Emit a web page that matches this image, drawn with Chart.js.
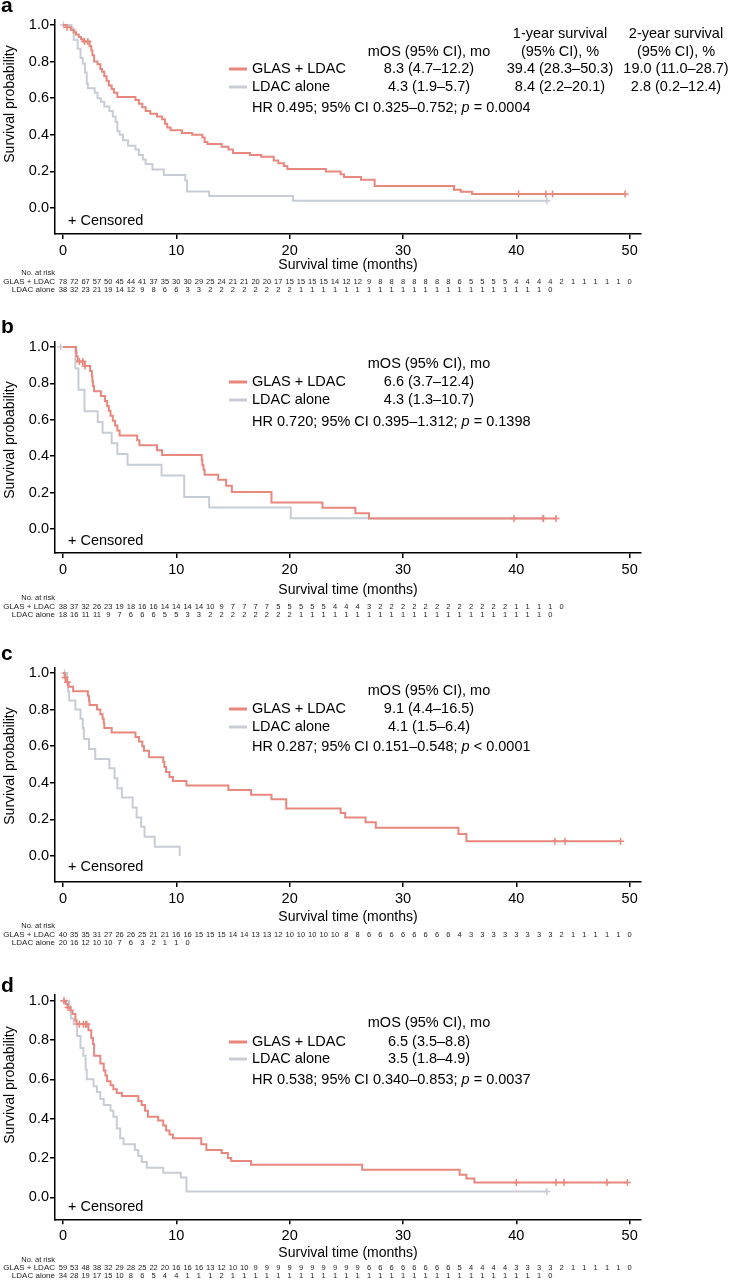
<!DOCTYPE html>
<html lang="en">
<head>
<meta charset="UTF-8">
<title>Overall survival</title>
<script src="https://cdn.jsdelivr.net/npm/chart.js"></script>
<style>
  body { margin: 0; background: #fff; }
  .panel { position: absolute; left: 0; width: 732px; height: 320px; }
</style>
</head>
<body>
<div class="panel" style="top:0px"><canvas id="chartA"></canvas></div>
<div class="panel" style="top:320px"><canvas id="chartB"></canvas></div>
<div class="panel" style="top:640px"><canvas id="chartC"></canvas></div>
<div class="panel" style="top:960px"><canvas id="chartD"></canvas></div>
<script>
// Axis ticks and labels
const xTicks = [0, 10, 20, 30, 40, 50];
const yTicks = [0, 0.2, 0.4, 0.6, 0.8, 1.0];
const groupLabels = ['GLAS + LDAC', 'LDAC alone'];

// Panel a
const aGlasTime = [0, 0.3, 0.7, 0.95, 1.15, 1.4, 1.6, 1.8, 2.35, 2.5, 2.6, 2.75, 3.05, 3.3, 3.45, 3.65, 3.85, 4.05, 4.3, 4.5, 4.8,
  6.4, 6.7, 7.0, 7.3, 7.7, 8.3, 8.75, 9.0, 9.2, 9.5, 10.5, 11.4, 12.3, 12.5, 12.75, 14.0, 14.6, 15.0, 16.5, 17.5, 18.6, 19.0,
  19.5, 19.8, 23.2, 24.5, 24.8, 26.3, 27.5, 34.5, 35.1, 36.1];
const aGlasSurv = [1, 0.987, 0.974, 0.961, 0.948, 0.935, 0.922, 0.91, 0.885, 0.86, 0.835, 0.80, 0.785, 0.76, 0.745, 0.72, 0.695, 0.67, 0.65, 0.63, 0.607,
  0.59, 0.57, 0.55, 0.53, 0.515, 0.50, 0.485, 0.46, 0.44, 0.425, 0.41, 0.40, 0.385, 0.36, 0.35, 0.335, 0.32, 0.30, 0.29, 0.28, 0.26, 0.245,
  0.23, 0.213, 0.20, 0.185, 0.17, 0.155, 0.12, 0.10, 0.089, 0.077];
const aGlasEnd = 49.7;
const aGlasCens = [0.35, 1.9, 2.2, 40.2, 42.6, 43.2, 49.6];
const aLdacTime = [0, 0.75, 0.95, 1.3, 1.55, 1.75, 1.95, 2.1, 2.2, 2.8, 3.05, 3.35, 3.65, 4.1, 4.4, 4.65, 4.8, 5.0, 5.3, 5.75,
  6.4, 6.7, 7.05, 7.3, 7.9, 8.9, 10.8, 10.95, 12.9, 20.3];
const aLdacSurv = [1, 0.973, 0.92, 0.87, 0.82, 0.79, 0.74, 0.68, 0.655, 0.63, 0.60, 0.58, 0.555, 0.53, 0.50, 0.47, 0.42, 0.40, 0.37, 0.34,
  0.32, 0.29, 0.265, 0.24, 0.21, 0.18, 0.15, 0.09, 0.065, 0.04];
const aLdacEnd = 42.7;
const aLdacCens = [0.05, 0.9, 42.7];
const aRiskGlas = [78, 72, 67, 57, 50, 45, 44, 41, 37, 35, 30, 30, 29, 25, 24, 21, 21, 20, 20, 17, 15, 15, 15, 15, 14, 12, 12,
  9, 8, 8, 8, 8, 8, 8, 8, 6, 5, 5, 5, 5, 4, 4, 4, 4, 2, 1, 1, 1, 1, 1, 0];
const aRiskLdac = [38, 32, 23, 21, 19, 14, 12, 9, 8, 6, 6, 3, 3, 2, 2, 2, 2, 2, 2, 2, 2, 1, 1, 1, 1, 1, 1,
  1, 1, 1, 1, 1, 1, 1, 1, 1, 1, 1, 1, 1, 1, 1, 1, 0];
const aMos = ['8.3 (4.7–12.2)', '4.3 (1.9–5.7)'];
const aYear1 = ['39.4 (28.3–50.3)', '8.4 (2.2–20.1)'];
const aYear2 = ['19.0 (11.0–28.7)', '2.8 (0.2–12.4)'];
const aHr = ['HR 0.495; 95% CI 0.325–0.752; ', ' = 0.0004'];

// Panel b
const bGlasTime = [0, 1.15, 1.2, 1.3, 1.9, 2.4, 2.55, 2.6, 2.65, 2.75, 3.35, 3.7, 3.9, 4.05, 4.2, 4.4, 4.6, 4.8, 5.0, 6.55, 6.75,
  8.3, 8.75, 12.25, 12.3, 12.4, 12.5, 13.7, 14.4, 14.9, 18.4, 22.9, 25.8, 27.0];
const bGlasSurv = [1, 0.974, 0.947, 0.92, 0.895, 0.868, 0.84, 0.812, 0.785, 0.757, 0.73, 0.703, 0.676, 0.649, 0.622, 0.595, 0.568, 0.541, 0.514, 0.487, 0.46,
  0.433, 0.406, 0.379, 0.352, 0.325, 0.298, 0.27, 0.237, 0.203, 0.145, 0.116, 0.087, 0.058];
const bGlasEnd = 43.5;
const bGlasCens = [1.45, 1.75, 1.95, 39.8, 42.4, 43.5];
const bLdacTime = [0, 1.1, 1.37, 1.9, 3.07, 3.5, 4.3, 4.8, 5.7, 8.7, 10.7, 12.9, 20.1];
const bLdacSurv = [1, 0.882, 0.765, 0.647, 0.588, 0.529, 0.471, 0.412, 0.353, 0.294, 0.176, 0.118, 0.059];
const bLdacEnd = 42.3;
const bLdacCens = [-0.2, 42.3];
const bRiskGlas = [38, 37, 32, 26, 23, 19, 18, 16, 16, 14, 14, 14, 14, 10, 9, 7, 7, 7, 7, 5, 5, 5, 5, 5, 4, 4, 4,
  3, 2, 2, 2, 2, 2, 2, 2, 2, 2, 2, 2, 2, 1, 1, 1, 1, 0];
const bRiskLdac = [18, 16, 11, 11, 9, 7, 6, 6, 6, 5, 5, 3, 3, 2, 2, 2, 2, 2, 2, 2, 2, 1, 1, 1, 1, 1, 1,
  1, 1, 1, 1, 1, 1, 1, 1, 1, 1, 1, 1, 1, 1, 1, 1, 0];
const bMos = ['6.6 (3.7–12.4)', '4.3 (1.3–10.7)'];
const bHr = ['HR 0.720; 95% CI 0.395–1.312; ', ' = 0.1398'];

// Panel c
const cGlasTime = [0, 0.15, 0.3, 0.5, 0.9, 2.2, 2.3, 2.35, 3.0, 3.3, 3.5, 3.6, 3.65, 4.3, 6.4, 6.7, 7.0, 7.15, 7.6,
  8.85, 8.95, 9.1, 9.4, 9.7, 10.9, 14.6, 16.6, 18.4, 19.7, 24.5, 24.9, 26.7, 27.6, 34.9, 35.6];
const cGlasSurv = [1, 0.975, 0.95, 0.925, 0.90, 0.875, 0.85, 0.825, 0.80, 0.775, 0.75, 0.725, 0.70, 0.675, 0.65, 0.625, 0.60, 0.575, 0.54,
  0.513, 0.486, 0.459, 0.432, 0.41, 0.385, 0.36, 0.335, 0.31, 0.26, 0.235, 0.21, 0.185, 0.155, 0.12, 0.08];
const cGlasEnd = 49.2;
const cGlasCens = [0.2, 0.4, 43.4, 44.3, 49.2];
const cLdacTime = [0, 0.35, 0.45, 0.55, 1.1, 1.55, 1.75, 1.85, 2.3, 2.85, 4.1, 4.55, 4.8, 5.2, 6.15, 6.5, 6.9, 7.2, 8.1, 10.3];
const cLdacSurv = [1, 0.95, 0.90, 0.85, 0.80, 0.75, 0.70, 0.64, 0.585, 0.53, 0.48, 0.425, 0.37, 0.32, 0.265, 0.21, 0.16, 0.105, 0.05, 0];
const cLdacEnd = 10.3;
const cLdacCens = [0.15];
const cRiskGlas = [40, 35, 35, 31, 27, 26, 26, 25, 21, 21, 16, 16, 15, 15, 15, 14, 14, 13, 13, 12, 10, 10, 10, 10, 10, 8, 8,
  6, 6, 6, 6, 6, 6, 6, 6, 4, 3, 3, 3, 3, 3, 3, 3, 3, 2, 1, 1, 1, 1, 1, 0];
const cRiskLdac = [20, 16, 12, 10, 10, 7, 6, 3, 2, 1, 1, 0];
const cMos = ['9.1 (4.4–16.5)', '4.1 (1.5–6.4)'];
const cHr = ['HR 0.287; 95% CI 0.151–0.548; ', ' < 0.0001'];

// Panel d
const dGlasTime = [0, 0.25, 0.4, 0.65, 0.85, 1.1, 1.2, 2.25, 2.5, 2.65, 2.75, 3.3, 3.6, 3.75, 3.9, 4.2, 4.45, 4.75, 5.2,
  6.65, 6.95, 7.25, 7.5, 8.4, 8.85, 9.1, 9.4, 9.7, 12.2, 12.65, 14.0, 14.55, 14.85, 16.6, 26.4, 35.0, 35.6, 36.3];
const dGlasSurv = [1, 0.983, 0.966, 0.95, 0.932, 0.90, 0.88, 0.85, 0.81, 0.78, 0.72, 0.68, 0.645, 0.62, 0.59, 0.57, 0.55, 0.53, 0.515,
  0.49, 0.47, 0.44, 0.41, 0.39, 0.365, 0.34, 0.32, 0.30, 0.27, 0.24, 0.225, 0.20, 0.185, 0.165, 0.14, 0.115, 0.095, 0.075];
const dGlasEnd = 49.8;
const dGlasCens = [0.1, 0.45, 1.45, 1.8, 2.0, 2.1, 40.0, 43.5, 44.2, 48.0, 49.8];
const dLdacTime = [0, 0.55, 0.7, 0.95, 1.25, 1.55, 1.8, 2.0, 2.1, 2.7, 3.0, 3.3, 3.6, 4.2, 4.45, 4.75, 5.05, 5.35,
  6.35, 6.65, 6.95, 7.4, 8.85, 10.4, 10.9];
const dLdacSurv = [1, 0.97, 0.91, 0.88, 0.82, 0.76, 0.72, 0.65, 0.60, 0.565, 0.535, 0.50, 0.47, 0.44, 0.41, 0.35, 0.30, 0.27,
  0.24, 0.21, 0.18, 0.15, 0.125, 0.10, 0.03];
const dLdacEnd = 42.7;
const dLdacCens = [0.05, 42.7];
const dRiskGlas = [59, 53, 48, 38, 32, 29, 28, 25, 22, 20, 16, 16, 16, 13, 12, 10, 10, 9, 9, 9, 9, 9, 9, 9, 9, 9, 9,
  6, 6, 6, 6, 6, 6, 6, 6, 5, 4, 4, 4, 4, 3, 3, 3, 3, 2, 1, 1, 1, 1, 1, 0];
const dRiskLdac = [34, 28, 19, 17, 15, 10, 8, 6, 5, 4, 4, 1, 1, 1, 2, 1, 1, 1, 1, 1, 1, 1, 1, 1, 1, 1, 1,
  1, 1, 1, 1, 1, 1, 1, 1, 1, 1, 1, 1, 1, 1, 1, 1, 0];
const dMos = ['6.5 (3.5–8.8)', '3.5 (1.8–4.9)'];
const dHr = ['HR 0.538; 95% CI 0.340–0.853; ', ' = 0.0037'];

// Styling
const RED = '#E8877D';
const GRAY = '#C8CCD5';
const FONT = 'Arial, "Liberation Sans", sans-serif';

// Page layout of each panel (absolute page y coords)
const panels = [
  { id: 'chartA', letter: 'a', top: 0, chartTop: 19.5, chartBottom: 234, yMin: -0.142,
    letterY: 12, yTitleY: 104, legendY: [69, 87], hrY: 108, headY: 52, censY: 221, xTitleY: 265, riskY: [273, 281.5, 289.5],
    glas: [aGlasTime, aGlasSurv, aGlasEnd, aGlasCens], ldac: [aLdacTime, aLdacSurv, aLdacEnd, aLdacCens],
    risk: [aRiskGlas, aRiskLdac], mos: aMos, hr: aHr, year1: aYear1, year2: aYear2 },
  { id: 'chartB', letter: 'b', top: 320, chartTop: 341.5, chartBottom: 553, yMin: -0.132,
    letterY: 333, yTitleY: 440, legendY: [382, 400], hrY: 422, headY: 364, censY: 541, xTitleY: 590, riskY: [598, 606.5, 614.5],
    glas: [bGlasTime, bGlasSurv, bGlasEnd, bGlasCens], ldac: [bLdacTime, bLdacSurv, bLdacEnd, bLdacCens],
    risk: [bRiskGlas, bRiskLdac], mos: bMos, hr: bHr },
  { id: 'chartC', letter: 'c', top: 640, chartTop: 667.5, chartBottom: 882, yMin: -0.142,
    letterY: 660, yTitleY: 766, legendY: [709, 727], hrY: 747, headY: 691, censY: 867, xTitleY: 917, riskY: [926, 934.5, 943],
    glas: [cGlasTime, cGlasSurv, cGlasEnd, cGlasCens], ldac: [cLdacTime, cLdacSurv, cLdacEnd, cLdacCens],
    risk: [cRiskGlas, cRiskLdac], mos: cMos, hr: cHr },
  { id: 'chartD', letter: 'd', top: 960, chartTop: 994.8, chartBottom: 1219.3, yMin: -0.112,
    letterY: 992, yTitleY: 1085, legendY: [1042, 1059], hrY: 1080, headY: 1023, censY: 1207, xTitleY: 1253, riskY: [1260, 1268, 1276],
    glas: [dGlasTime, dGlasSurv, dGlasEnd, dGlasCens], ldac: [dLdacTime, dLdacSurv, dLdacEnd, dLdacCens],
    risk: [dRiskGlas, dRiskLdac], mos: dMos, hr: dHr }
];

function survAt(times, surv, t) {
  let s = surv[0];
  for (let i = 0; i < times.length; i++) {
    if (times[i] <= t) s = surv[i];
  }
  return s;
}

function curvePoints(times, surv, end) {
  const pts = times.map((t, i) => ({ x: t, y: surv[i] }));
  pts.push({ x: end, y: surv[surv.length - 1] });
  return pts;
}

function censPoints(times, surv, cens) {
  return cens.map(t => ({ x: t, y: survAt(times, surv, t) }));
}

function textPlugin(p) {
  return {
    id: 'kmText',
    afterDraw(chart) {
      const ctx = chart.ctx;
      const oy = p.top;
      const xs = chart.scales.x;
      const area = chart.chartArea;
      ctx.save();
      ctx.fillStyle = '#000';

      // panel letter
      ctx.font = 'bold 21px ' + FONT;
      ctx.textAlign = 'left';
      ctx.textBaseline = 'alphabetic';
      ctx.fillText(p.letter, 1, p.letterY - oy);

      ctx.textBaseline = 'middle';
      ctx.font = '14px ' + FONT;
      // y title
      ctx.save();
      ctx.translate(10, p.yTitleY - oy);
      ctx.rotate(-Math.PI / 2);
      ctx.textAlign = 'center';
      ctx.fillText('Survival probability', 0, 0);
      ctx.restore();
      // x title
      ctx.textAlign = 'center';
      ctx.fillText('Survival time (months)', (area.left + area.right) / 2, p.xTitleY - oy);

      // legend
      ctx.font = '14.5px ' + FONT;
      [RED, GRAY].forEach((c, i) => {
        const y = p.legendY[i] - oy;
        ctx.strokeStyle = c;
        ctx.lineWidth = 3;
        ctx.beginPath();
        ctx.moveTo(229, y);
        ctx.lineTo(247, y);
        ctx.stroke();
        ctx.textAlign = 'left';
        ctx.fillText(groupLabels[i], 252, y);
        ctx.textAlign = 'center';
        ctx.fillText(p.mos[i], 429, y);
        if (p.year1) {
          ctx.fillText(p.year1[i], 560, y);
          ctx.fillText(p.year2[i], 676, y);
        }
      });
      ctx.textAlign = 'center';
      ctx.fillText('mOS (95% CI), mo', 429, p.headY - oy);
      if (p.year1) {
        ctx.fillText('1-year survival', 560, p.headY - 18 - oy);
        ctx.fillText('(95% CI), %', 560, p.headY - oy);
        ctx.fillText('2-year survival', 676, p.headY - 18 - oy);
        ctx.fillText('(95% CI), %', 676, p.headY - oy);
      }

      // hazard ratio line
      ctx.textAlign = 'left';
      let x = 252;
      const hy = p.hrY - oy;
      ctx.fillText(p.hr[0], x, hy);
      x += ctx.measureText(p.hr[0]).width;
      ctx.font = 'italic 14.5px ' + FONT;
      ctx.fillText('p', x, hy);
      x += ctx.measureText('p').width;
      ctx.font = '14.5px ' + FONT;
      ctx.fillText(p.hr[1], x, hy);

      // censored note
      ctx.fillText('+ Censored', 68, p.censY - oy);

      // number at risk table
      ctx.fillStyle = '#222';
      ctx.textAlign = 'right';
      ctx.font = '7.5px ' + FONT;
      ctx.fillText('No. at risk', 55, p.riskY[0] - oy);
      ctx.font = '8px ' + FONT;
      ctx.fillText(groupLabels[0], 55, p.riskY[1] - oy);
      ctx.fillText(groupLabels[1], 55, p.riskY[2] - oy);
      ctx.font = '7.5px ' + FONT;
      ctx.textAlign = 'center';
      p.risk.forEach((row, r) => {
        row.forEach((n, i) => {
          ctx.fillText(String(n), xs.getPixelForValue(i), p.riskY[r + 1] - oy);
        });
      });
      ctx.restore();
    }
  };
}

function axisStyle() {
  return {
    ticks: { color: '#000', font: { size: 14.5, family: FONT } },
    grid: { display: true, drawOnChartArea: false, drawTicks: true, tickLength: 5, color: '#000', lineWidth: 1.5 },
    border: { display: true, color: '#000', width: 1.5 }
  };
}

panels.forEach(p => {
  const padTop = p.chartTop - p.top;
  const xAxisH = p.top + 320 - p.chartBottom;
  const xs = axisStyle();
  const ys = axisStyle();
  new Chart(document.getElementById(p.id), {
    type: 'line',
    data: {
      datasets: [
        { data: curvePoints(p.glas[0], p.glas[1], p.glas[2]), borderColor: RED, borderWidth: 2, stepped: true, pointRadius: 0, fill: false },
        { data: censPoints(p.glas[0], p.glas[1], p.glas[3]), showLine: false, pointStyle: 'cross', pointRadius: 3.5,
          borderColor: RED, borderWidth: 1.5, backgroundColor: RED },
        { data: curvePoints(p.ldac[0], p.ldac[1], p.ldac[2]), borderColor: GRAY, borderWidth: 2, stepped: true, pointRadius: 0, fill: false },
        { data: censPoints(p.ldac[0], p.ldac[1], p.ldac[3]), showLine: false, pointStyle: 'cross', pointRadius: 3.5,
          borderColor: GRAY, borderWidth: 1.5, backgroundColor: GRAY }
      ]
    },
    options: {
      responsive: true,
      maintainAspectRatio: false,
      animation: false,
      layout: { padding: { left: 0, right: 91, top: padTop, bottom: 0 } },
      plugins: { legend: { display: false }, tooltip: { enabled: false } },
      scales: {
        x: Object.assign(xs, {
          type: 'linear', min: -0.7, max: 51,
          afterBuildTicks: ax => { ax.ticks = xTicks.map(v => ({ value: v })); },
          afterFit: s => { s.height = xAxisH; },
          ticks: Object.assign(xs.ticks, { padding: 3, maxRotation: 0, autoSkip: false, callback: v => String(v) })
        }),
        y: Object.assign(ys, {
          type: 'linear', min: p.yMin, max: 1.03,
          afterBuildTicks: ax => { ax.ticks = yTicks.map(v => ({ value: v })); },
          afterFit: s => { s.width = 55; },
          ticks: Object.assign(ys.ticks, { padding: 1, callback: v => v.toFixed(1) })
        })
      }
    },
    plugins: [textPlugin(p)]
  });
});
</script>
</body>
</html>
